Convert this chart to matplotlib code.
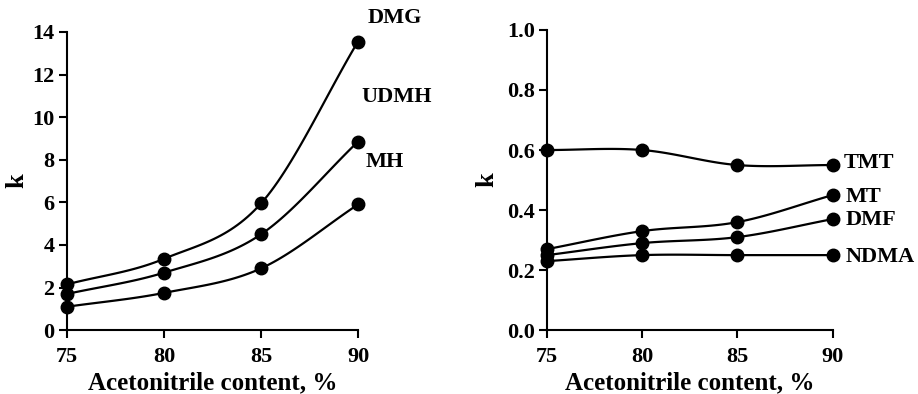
import matplotlib
matplotlib.use("Agg")
import matplotlib.pyplot as plt
import numpy as np

plt.rcParams['font.family'] = ['Liberation Serif', 'DejaVu Serif']
plt.rcParams['font.weight'] = 'bold'

acn = [75, 80, 85, 90]

# left panel
dmg = [2.15, 3.35, 5.95, 13.55]
udmh = [1.7, 2.7, 4.5, 8.85]
mh = [1.1, 1.75, 2.9, 5.9]

# right panel
tmt = [0.60, 0.60, 0.55, 0.55]
mt = [0.27, 0.33, 0.36, 0.45]
dmf = [0.25, 0.29, 0.31, 0.37]
ndma = [0.23, 0.25, 0.25, 0.25]


def smooth(x, y, n=30):
    # catmull-rom, like excel's smoothed line
    x = np.asarray(x, float)
    y = np.asarray(y, float)
    px = np.concatenate([[2 * x[0] - x[1]], x, [2 * x[-1] - x[-2]]])
    py = np.concatenate([[2 * y[0] - y[1]], y, [2 * y[-1] - y[-2]]])
    xs, ys = [], []
    t = np.linspace(0, 1, n)
    for i in range(1, len(px) - 2):
        for p, out in ((px, xs), (py, ys)):
            p0, p1, p2, p3 = p[i - 1], p[i], p[i + 1], p[i + 2]
            out.extend(0.5 * (2 * p1 + (-p0 + p2) * t
                              + (2 * p0 - 5 * p1 + 4 * p2 - p3) * t ** 2
                              + (-p0 + 3 * p1 - 3 * p2 + p3) * t ** 3))
    return xs, ys


def style(ax, ylim, yticks, fmt, kx):
    ax.set_xlim(75, 90)
    ax.set_ylim(*ylim)
    ax.set_xticks(acn)
    ax.set_yticks(yticks)
    ax.set_yticklabels([fmt.format(v) for v in yticks])
    for s in ('top', 'right'):
        ax.spines[s].set_visible(False)
    for s in ('left', 'bottom'):
        ax.spines[s].set_linewidth(1.5)
    ax.tick_params(direction='out', length=6, width=1.5, labelsize=16)
    ax.tick_params(axis='x', pad=6)
    ax.tick_params(axis='y', pad=3)
    ax.set_xlabel('Acetonitrile content, %', fontsize=18, fontweight='bold', labelpad=3)
    ax.set_ylabel('k', fontsize=19, fontweight='bold')
    ax.yaxis.set_label_coords(kx, 0.5)


fig = plt.figure(figsize=(9.18, 3.94), dpi=100)
ax1 = fig.add_axes([0.073, 0.162, 0.317, 0.757])
ax2 = fig.add_axes([0.596, 0.162, 0.311, 0.762])

for y in (dmg, udmh, mh):
    sx, sy = smooth(acn, y)
    ax1.plot(sx, sy, color='black', lw=1.6, clip_on=False)
    ax1.plot(acn, y, 'o', color='black', ms=9, clip_on=False, zorder=3)
for y in (tmt, mt, dmf, ndma):
    sx, sy = smooth(acn, y)
    ax2.plot(sx, sy, color='black', lw=1.6, clip_on=False)
    ax2.plot(acn, y, 'o', color='black', ms=9, clip_on=False, zorder=3)

style(ax1, (0, 14), [0, 2, 4, 6, 8, 10, 12, 14], '{:g}', -0.134)
style(ax2, (0, 1.0), [0.0, 0.2, 0.4, 0.6, 0.8, 1.0], '{:.1f}', -0.171)

for name, x, y in (('DMG', 90.5, 14.65), ('UDMH', 90.2, 10.95), ('MH', 90.4, 7.9)):
    ax1.text(x, y, name, fontsize=16, fontweight='bold', va='center', ha='left', clip_on=False)
for name, x, y in (('TMT', 90.6, 0.557), ('MT', 90.7, 0.443), ('DMF', 90.7, 0.367), ('NDMA', 90.7, 0.243)):
    ax2.text(x, y, name, fontsize=16, fontweight='bold', va='center', ha='left', clip_on=False)

fig.savefig('out.png', dpi=100)
